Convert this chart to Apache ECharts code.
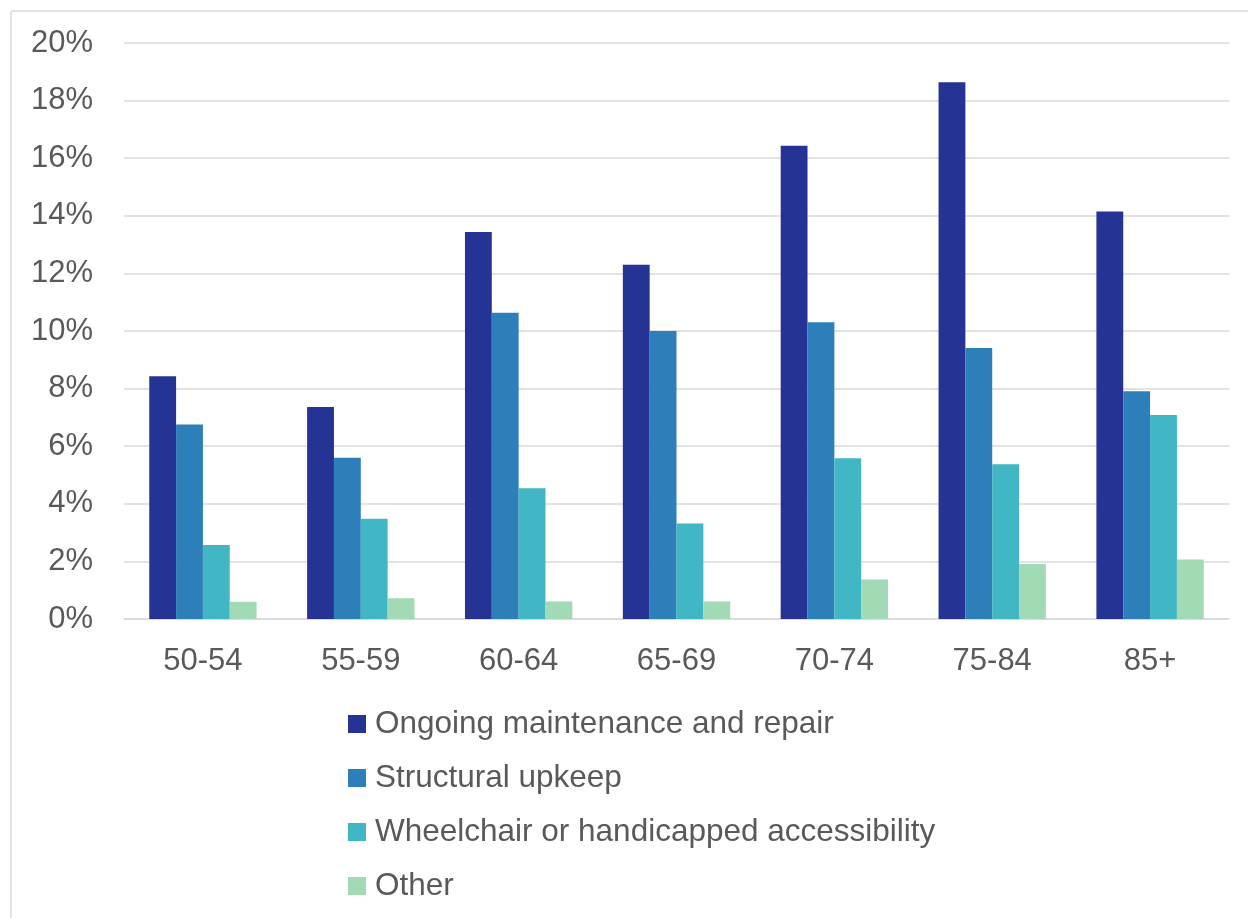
<!DOCTYPE html>
<html>
<head>
<meta charset="utf-8">
<script src="https://cdn.jsdelivr.net/npm/echarts@6/dist/echarts.min.js"></script>
<style>
  html, body { margin: 0; padding: 0; background: #ffffff; }
  #chart { width: 1248px; height: 918px; }
</style>
</head>
<body>
<div id="chart"></div>
<script>
// Age groups along the x axis
const ageGroups = ['50-54', '55-59', '60-64', '65-69', '70-74', '75-84', '85+'];

// Share of households (%) by type of home modification need
const maintenanceRepair = [8.43, 7.36, 13.44, 12.30, 16.43, 18.64, 14.15];
const structuralUpkeep  = [6.75, 5.60, 10.63, 10.00, 10.30, 9.41, 7.91];
const accessibility     = [2.57, 3.48, 4.54, 3.32, 5.58, 5.37, 7.08];
const otherNeeds        = [0.60, 0.72, 0.61, 0.61, 1.37, 1.91, 2.07];

const seriesNames = [
  'Ongoing maintenance and repair',
  'Structural upkeep',
  'Wheelchair or handicapped accessibility',
  'Other'
];
const seriesColors = ['#253494', '#2c7fb8', '#41b6c4', '#a1dab4'];
const seriesData = [maintenanceRepair, structuralUpkeep, accessibility, otherNeeds];

const FONT = 'Tahoma, "Liberation Sans", Arial, sans-serif';
const TEXT = '#595959';
const GRID = '#d9d9d9';

const chart = echarts.init(document.getElementById('chart'), null, { renderer: 'canvas' });

chart.setOption({
  animation: false,
  backgroundColor: '#ffffff',
  textStyle: { fontFamily: FONT },
  grid: { left: 124, right: 19, top: 43, bottom: 299, containLabel: false },
  xAxis: {
    type: 'category',
    data: ageGroups,
    axisLine: { show: true, lineStyle: { color: GRID, width: 1.5 } },
    axisTick: { show: false },
    axisLabel: { color: TEXT, fontSize: 31, fontFamily: FONT, margin: 27 }
  },
  yAxis: {
    type: 'value',
    min: 0,
    max: 20,
    interval: 2,
    axisLine: { show: false },
    axisTick: { show: false },
    splitLine: { lineStyle: { color: GRID, width: 1.5 } },
    axisLabel: {
      color: TEXT, fontSize: 31, fontFamily: FONT, margin: 31,
      formatter: v => v + '%'
    }
  },
  legend: {
    orient: 'vertical',
    left: 348,
    top: 707,
    padding: 0,
    itemWidth: 18,
    itemHeight: 18,
    itemGap: 20,
    icon: 'rect',
    selectedMode: false,
    textStyle: {
      color: TEXT, fontSize: 31.5, fontFamily: FONT, lineHeight: 34,
      padding: [0, 0, 0, 4]
    },
    data: seriesNames
  },
  series: seriesData.map((d, i) => ({
    name: seriesNames[i],
    type: 'bar',
    data: d,
    barGap: 0,
    barCategoryGap: '32%',
    itemStyle: { color: seriesColors[i] }
  })),
  graphic: [
    // light frame along the top and left edges
    { type: 'line', silent: true, shape: { x1: 11, y1: 11, x2: 1248, y2: 11 },
      style: { stroke: GRID, lineWidth: 1.5 } },
    { type: 'line', silent: true, shape: { x1: 11, y1: 11, x2: 11, y2: 918 },
      style: { stroke: GRID, lineWidth: 1.5 } }
  ]
});
</script>
</body>
</html>
